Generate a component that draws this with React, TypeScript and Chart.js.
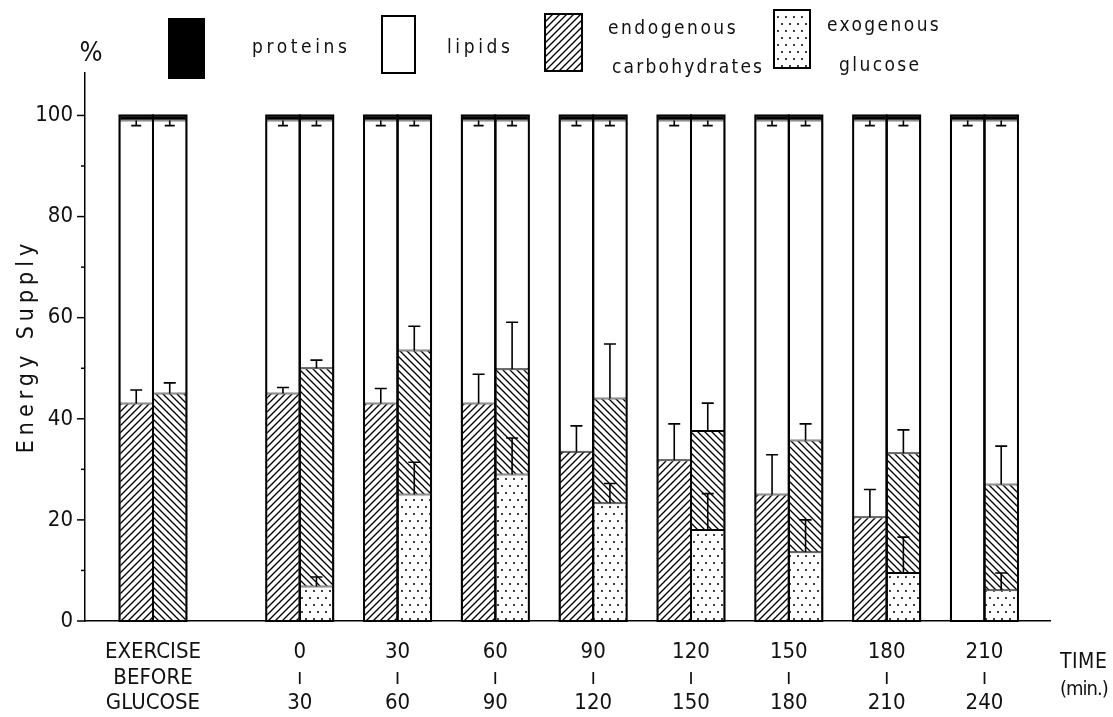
import React, { useEffect, useRef } from 'react';
import { Chart, registerables } from 'chart.js';

Chart.register(...registerables);

// ---------- data ----------
const groupLabels: string[][] = [
  ['EXERCISE', 'BEFORE', 'GLUCOSE'],
  ['0', 'ı', '30'],
  ['30', 'ı', '60'],
  ['60', 'ı', '90'],
  ['90', 'ı', '120'],
  ['120', 'ı', '150'],
  ['150', 'ı', '180'],
  ['180', 'ı', '210'],
  ['210', 'ı', '240'],
];
// total carbohydrate share (endogenous + exogenous), left bar of each pair
const leftCarb = [43, 45, 43, 43, 33.5, 31.8, 25, 20.5, 0];
const leftCarbErr = [2.7, 1.2, 3, 5.8, 5.1, 7.2, 7.9, 5.5, 0];
// total carbohydrate share, right bar of each pair
const rightCarb = [45, 50, 53.5, 49.8, 44, 37.6, 35.7, 33.2, 27];
const rightCarbErr = [2.1, 1.6, 4.8, 9.3, 10.8, 5.5, 3.3, 4.6, 7.6];
// exogenous glucose share, right bar
const exoGlucose = [0, 6.8, 25, 29, 23.3, 18, 13.6, 9.5, 6.1];
const exoGlucoseErr = [0, 1.9, 6.4, 7.2, 3.9, 7.2, 6.4, 7.1, 3.4];
// protein share (both bars)
const protein = [1, 1, 1, 1, 1, 1, 1, 1, 1];
const proteinErr = [1, 1, 1, 1, 1, 1, 1, 1, 1];
const yTicks = [0, 20, 40, 60, 80, 100];

// ---------- layout ----------
const W = 1113;
const H = 717;
const FONT = "'DejaVu Sans Condensed', 'DejaVu Sans', sans-serif";
// position of each pair on the x axis (first pair set apart by a wider gap)
const groupPos = groupLabels.map((_, i) => (i === 0 ? 0 : i + 0.5));

function makePattern(kind: 'fwd' | 'back' | 'dots'): CanvasPattern | string {
  const c = document.createElement('canvas');
  const sw = kind === 'dots' ? 8 : 7;
  const sh = kind === 'dots' ? 14 : 7;
  c.width = sw;
  c.height = sh;
  const g = c.getContext('2d');
  if (!g) return '#fff';
  g.fillStyle = '#fff';
  g.fillRect(0, 0, sw, sh);
  g.strokeStyle = '#000';
  g.fillStyle = '#000';
  g.lineWidth = 1.35;
  const s = sw;
  if (kind === 'fwd') {
    g.beginPath();
    g.moveTo(-1, s + 1); g.lineTo(s + 1, -1);
    g.moveTo(-1, 1); g.lineTo(1, -1);
    g.moveTo(s - 1, s + 1); g.lineTo(s + 1, s - 1);
    g.stroke();
  } else if (kind === 'back') {
    g.beginPath();
    g.moveTo(-1, -1); g.lineTo(s + 1, s + 1);
    g.moveTo(s - 1, -1); g.lineTo(s + 1, 1);
    g.moveTo(-1, s - 1); g.lineTo(1, s + 1);
    g.stroke();
  } else {
    g.beginPath(); g.arc(2, 3, 1, 0, Math.PI * 2); g.fill();
    g.beginPath(); g.arc(6, 10, 1, 0, Math.PI * 2); g.fill();
  }
  return g.createPattern(c, 'repeat') || '#fff';
}

export default function App() {
  const ref = useRef<HTMLCanvasElement | null>(null);

  useEffect(() => {
    const canvas = ref.current;
    if (!canvas) return;
    const fwd = makePattern('fwd');
    const back = makePattern('back');
    const dots = makePattern('dots');

    const pts = (vals: (number | null)[]) =>
      vals.map((v, i) => ({ x: groupPos[i], y: v }));
    const nz = (v: number) => (v > 0 ? v : null);

    const datasets: any[] = [
      { label: 'endogenous carbohydrates', stack: 'L', data: pts(leftCarb.map(nz)), backgroundColor: fwd },
      { label: 'lipids', stack: 'L', data: pts(leftCarb.map((c, i) => 100 - protein[i] - c)), backgroundColor: '#fff' },
      { label: 'proteins', stack: 'L', data: pts(protein), backgroundColor: '#000' },
      { label: 'exogenous glucose', stack: 'R', data: pts(exoGlucose.map(nz)), backgroundColor: dots },
      { label: 'endogenous carbohydrates', stack: 'R', data: pts(rightCarb.map((c, i) => c - exoGlucose[i])), backgroundColor: back },
      { label: 'lipids', stack: 'R', data: pts(rightCarb.map((c, i) => 100 - protein[i] - c)), backgroundColor: '#fff' },
      { label: 'proteins', stack: 'R', data: pts(protein), backgroundColor: '#000' },
    ];

    const decor = {
      id: 'decor',
      afterDatasetsDraw(chart: any) {
        const ctx: CanvasRenderingContext2D = chart.ctx;
        const ys = chart.scales.y;
        const py = (v: number) => ys.getPixelForValue(v);
        ctx.save();
        ctx.strokeStyle = '#000';
        // outlines of every bar
        ctx.lineWidth = 2;
        [1, 5].forEach((di) => {
          chart.getDatasetMeta(di).data.forEach((el: any) => {
            const l = el.x - el.width / 2;
            ctx.strokeRect(l, py(100), el.width, py(0) - py(100));
          });
        });
        // error bars
        ctx.lineWidth = 1.6;
        const err = (x: number, from: number, to: number, cap: number) => {
          ctx.beginPath();
          ctx.moveTo(x, py(from));
          ctx.lineTo(x, py(to));
          ctx.moveTo(x - cap, py(to));
          ctx.lineTo(x + cap, py(to));
          ctx.stroke();
        };
        const lMeta = chart.getDatasetMeta(1).data;
        const rMeta = chart.getDatasetMeta(5).data;
        groupPos.forEach((_, i) => {
          const lx = lMeta[i].x;
          const rx = rMeta[i].x;
          if (leftCarb[i] > 0) err(lx, leftCarb[i], leftCarb[i] + leftCarbErr[i], 6);
          err(rx, rightCarb[i], rightCarb[i] + rightCarbErr[i], 6);
          if (exoGlucose[i] > 0) err(rx, exoGlucose[i], exoGlucose[i] + exoGlucoseErr[i], 6);
          err(lx, 100 - protein[i], 100 - protein[i] - proteinErr[i], 5);
          err(rx, 100 - protein[i], 100 - protein[i] - proteinErr[i], 5);
        });
        ctx.restore();
      },
      afterDraw(chart: any) {
        const ctx: any = chart.ctx;
        const ys = chart.scales.y;
        const left = chart.chartArea.left;
        ctx.save();
        ctx.strokeStyle = '#000';
        ctx.fillStyle = '#111';
        // y tick marks (major + minor)
        ctx.lineWidth = 1.5;
        for (let v = 0; v <= 100; v += 10) {
          const len = yTicks.includes(v) ? 8 : 4;
          const p = ys.getPixelForValue(v);
          ctx.beginPath();
          ctx.moveTo(left - len, p);
          ctx.lineTo(left, p);
          ctx.stroke();
        }
        // % sign
        ctx.font = `27px ${FONT}`;
        ctx.textAlign = 'center';
        ctx.textBaseline = 'middle';
        ctx.fillText('%', 91, 54);
        // y title
        ctx.save();
        ctx.translate(27, 348);
        ctx.rotate(-Math.PI / 2);
        ctx.font = `23px ${FONT}`;
        ctx.letterSpacing = '5px';
        ctx.textAlign = 'center';
        ctx.fillText('Energy Supply', 2, 0);
        ctx.restore();
        // x title
        ctx.textAlign = 'left';
        ctx.font = `21px ${FONT}`;
        ctx.letterSpacing = '0.5px';
        ctx.fillText('TIME', 1060, 663);
        ctx.font = `20px ${FONT}`;
        ctx.letterSpacing = '-1px';
        ctx.fillText('(min.)', 1060, 690);
        // legend
        const box = (x: number, y: number, w: number, h: number, fill: any) => {
          ctx.fillStyle = fill;
          ctx.fillRect(x, y, w, h);
          ctx.lineWidth = 2;
          ctx.strokeRect(x, y, w, h);
        };
        box(169, 19, 35, 59, '#000');
        box(382, 16, 33, 57, '#fff');
        box(545, 14, 37, 57, fwd);
        box(774, 10, 36, 58, dots);
        ctx.fillStyle = '#111';
        ctx.font = `19px ${FONT}`;
        ctx.textBaseline = 'alphabetic';
        ctx.textAlign = 'left';
        ctx.letterSpacing = '3.6px';
        ctx.fillText('proteins', 252, 53);
        ctx.fillText('lipids', 447, 53);
        ctx.letterSpacing = '2.5px';
        ctx.fillText('endogenous', 608, 34);
        ctx.letterSpacing = '2.2px';
        ctx.fillText('carbohydrates', 612, 73);
        ctx.letterSpacing = '2.4px';
        ctx.fillText('exogenous', 827, 31);
        ctx.fillText('glucose', 839, 71);
        ctx.restore();
      },
    };

    const chart = new Chart(canvas, {
      type: 'bar',
      data: { datasets },
      options: {
        animation: false,
        responsive: false,
        maintainAspectRatio: false,
        layout: { padding: { left: 0, top: 73, right: 63, bottom: 0 } },
        plugins: { legend: { display: false }, tooltip: { enabled: false } },
        datasets: {
          bar: {
            barPercentage: 1,
            categoryPercentage: 0.685,
            borderColor: '#000',
            borderWidth: 1,
            borderSkipped: false,
          },
        },
        scales: {
          x: {
            type: 'linear',
            min: -0.695,
            max: 9.17,
            offset: false,
            grid: { display: false, drawTicks: false },
            border: { display: true, color: '#000', width: 1.5 },
            afterBuildTicks: (s: any) => {
              s.ticks = groupPos.map((v) => ({ value: v }));
            },
            afterFit: (s: any) => {
              s.height = 96;
            },
            ticks: {
              autoSkip: false,
              maxRotation: 0,
              minRotation: 0,
              padding: 19,
              color: '#111',
              font: { family: FONT, size: 22, lineHeight: 25.5 / 22 },
              callback: (_v: any, i: number) => groupLabels[i],
            },
          },
          y: {
            min: 0,
            max: 108.4,
            stacked: true,
            grid: { display: false, drawTicks: false },
            border: { display: true, color: '#000', width: 1.5 },
            afterFit: (s: any) => {
              s.width = 85;
            },
            ticks: {
              stepSize: 10,
              includeBounds: false,
              padding: 12,
              color: '#111',
              font: { family: FONT, size: 22 },
              callback: (v: any) => (yTicks.includes(Number(v)) ? String(v) : ''),
            },
          },
        },
      } as any,
      plugins: [decor],
    });
    return () => chart.destroy();
  }, []);

  return (
    <div style={{ position: 'fixed', left: 0, top: 0, width: W, height: H, background: '#fff' }}>
      <canvas ref={ref} width={W} height={H} style={{ display: 'block' }} />
    </div>
  );
}
